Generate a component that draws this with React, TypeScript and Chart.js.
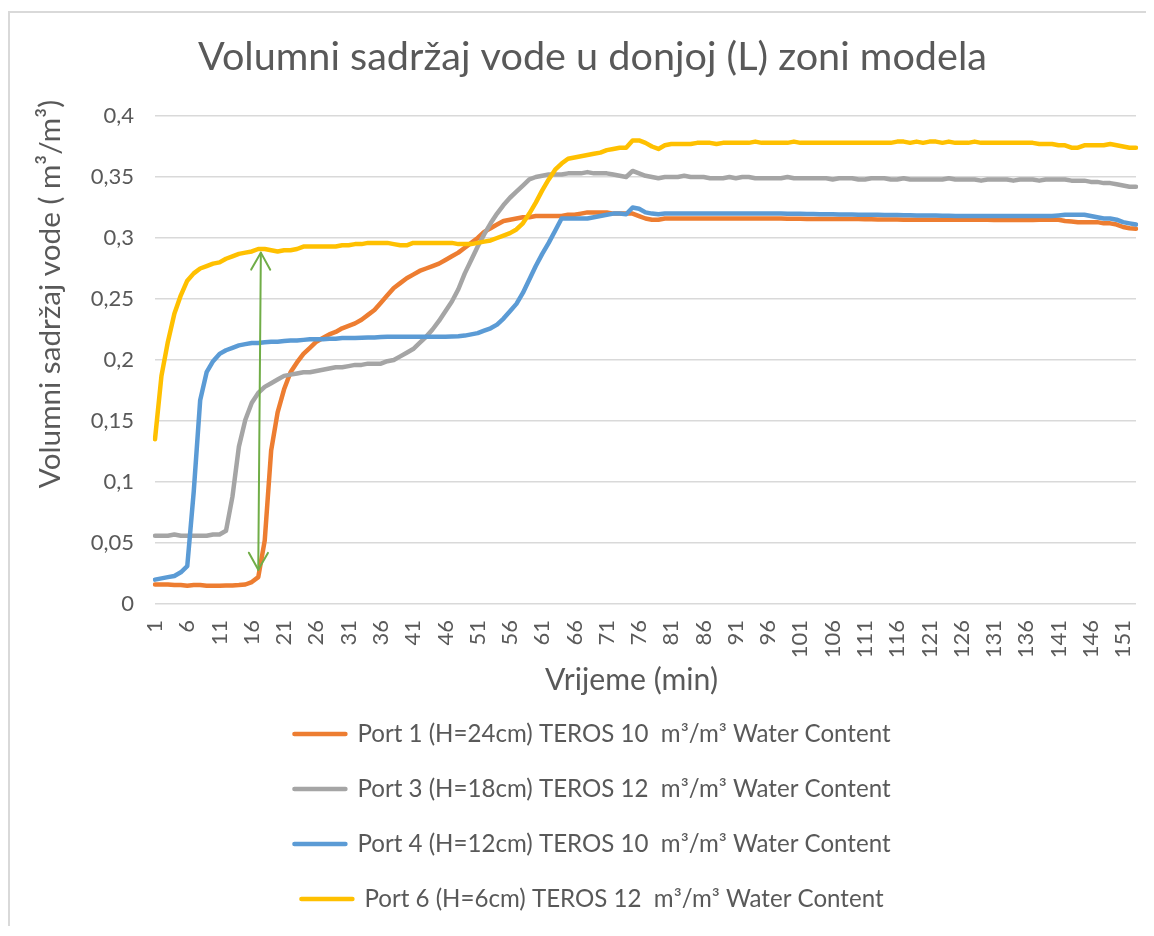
import React, { useEffect, useRef } from 'react';
import { Chart, registerables } from 'chart.js';

Chart.register(...registerables);

// ---------- text ----------
const CHART_TITLE = 'Volumni sadržaj vode u donjoj (L) zoni modela';
const X_TITLE = 'Vrijeme (min)';
const Y_TITLE = 'Volumni sadržaj vode ( m³/m³)';

// ---------- categories (minutes 1..153) ----------
const MINUTE_COUNT = 153;
const MINUTES: string[] = Array.from({ length: MINUTE_COUNT }, (_, i) => String(i + 1));
const X_LABEL_EVERY = 5;

// ---------- y axis ----------
const Y_MIN = 0;
const Y_MAX = 0.4;
const Y_STEP = 0.05;

// ---------- series ----------
const SERIES_LABELS = [
  'Port 1 (H=24cm) TEROS 10  m³/m³ Water Content',
  'Port 3 (H=18cm) TEROS 12  m³/m³ Water Content',
  'Port 4 (H=12cm) TEROS 10  m³/m³ Water Content',
  'Port 6 (H=6cm) TEROS 12  m³/m³ Water Content',
];
const SERIES_COLORS = ['#ED7D31', '#A5A5A5', '#5B9BD5', '#FFC000'];

const PORT_1 = [
  0.016, 0.016, 0.016, 0.0155, 0.0155, 0.015, 0.0155, 0.0155, 0.015, 0.015,
  0.015, 0.0152, 0.0152, 0.0155, 0.016, 0.018, 0.022, 0.052, 0.126, 0.157,
  0.176, 0.19, 0.198, 0.205, 0.21, 0.215, 0.218, 0.221, 0.223, 0.226,
  0.228, 0.23, 0.233, 0.237, 0.241, 0.247, 0.253, 0.259, 0.263, 0.267,
  0.27, 0.273, 0.275, 0.277, 0.279, 0.282, 0.285, 0.288, 0.292, 0.296,
  0.3, 0.305, 0.308, 0.311, 0.314, 0.315, 0.316, 0.317, 0.317, 0.318,
  0.318, 0.318, 0.318, 0.318, 0.319, 0.319, 0.32, 0.321, 0.321, 0.321,
  0.321, 0.32, 0.32, 0.32, 0.32, 0.318, 0.316, 0.315, 0.315, 0.316,
  0.316, 0.316, 0.316, 0.316, 0.316, 0.316, 0.316, 0.316, 0.316, 0.316,
  0.316, 0.316, 0.316, 0.316, 0.316, 0.316, 0.316, 0.316, 0.3158, 0.3158,
  0.3158, 0.3156, 0.3156, 0.3156, 0.3156, 0.3155, 0.3155, 0.3155, 0.3155, 0.3155,
  0.3153, 0.3153, 0.3152, 0.3152, 0.3152, 0.3152, 0.315, 0.315, 0.315, 0.315,
  0.315, 0.315, 0.315, 0.315, 0.315, 0.315, 0.315, 0.315, 0.315, 0.315,
  0.3148, 0.3148, 0.3148, 0.3148, 0.3148, 0.3148, 0.3148, 0.315, 0.315, 0.315,
  0.315, 0.314, 0.3135, 0.313, 0.313, 0.313, 0.313, 0.312, 0.312, 0.311,
  0.309, 0.308, 0.3075,
];

const PORT_3 = [
  0.056, 0.056, 0.056, 0.057, 0.056, 0.056, 0.056, 0.056, 0.056, 0.057,
  0.057, 0.06, 0.088, 0.129, 0.151, 0.165, 0.173, 0.178, 0.181, 0.184,
  0.187, 0.188, 0.189, 0.19, 0.19, 0.191, 0.192, 0.193, 0.194, 0.194,
  0.195, 0.196, 0.196, 0.197, 0.197, 0.197, 0.199, 0.2, 0.203, 0.206,
  0.209, 0.214, 0.219, 0.225, 0.232, 0.24, 0.248, 0.258, 0.271, 0.282,
  0.293, 0.303, 0.312, 0.32, 0.327, 0.333, 0.338, 0.343, 0.348, 0.35,
  0.351, 0.352, 0.352, 0.352, 0.353, 0.353, 0.353, 0.354, 0.353, 0.353,
  0.353, 0.352, 0.351, 0.35, 0.355, 0.353, 0.351, 0.35, 0.349, 0.35,
  0.35, 0.35, 0.351, 0.35, 0.35, 0.35, 0.349, 0.349, 0.349, 0.35,
  0.349, 0.35, 0.35, 0.349, 0.349, 0.349, 0.349, 0.349, 0.35, 0.349,
  0.349, 0.349, 0.349, 0.349, 0.349, 0.348, 0.349, 0.349, 0.349, 0.348,
  0.348, 0.349, 0.349, 0.349, 0.348, 0.348, 0.349, 0.348, 0.348, 0.348,
  0.348, 0.348, 0.348, 0.349, 0.348, 0.348, 0.348, 0.348, 0.347, 0.348,
  0.348, 0.348, 0.348, 0.347, 0.348, 0.348, 0.348, 0.347, 0.348, 0.348,
  0.348, 0.348, 0.347, 0.347, 0.347, 0.346, 0.346, 0.345, 0.345, 0.344,
  0.343, 0.342, 0.342,
];

const PORT_4 = [
  0.02, 0.021, 0.022, 0.023, 0.026, 0.031, 0.092, 0.167, 0.19, 0.199,
  0.205, 0.208, 0.21, 0.212, 0.213, 0.214, 0.214, 0.2145, 0.215, 0.215,
  0.2155, 0.216, 0.216, 0.2165, 0.217, 0.217, 0.217, 0.2175, 0.2175, 0.218,
  0.218, 0.218, 0.2182, 0.2185, 0.2185, 0.2188, 0.219, 0.219, 0.219, 0.219,
  0.219, 0.219, 0.219, 0.219, 0.219, 0.219, 0.2192, 0.2195, 0.22, 0.221,
  0.222, 0.224, 0.226, 0.229, 0.234, 0.24, 0.246, 0.255, 0.266, 0.277,
  0.287, 0.296, 0.306, 0.316, 0.316, 0.316, 0.316, 0.316, 0.317, 0.318,
  0.319, 0.32, 0.32, 0.3195, 0.325, 0.324, 0.321, 0.32, 0.3195, 0.32,
  0.32, 0.32, 0.32, 0.32, 0.32, 0.32, 0.32, 0.32, 0.32, 0.32,
  0.32, 0.32, 0.32, 0.32, 0.32, 0.32, 0.32, 0.32, 0.3198, 0.3198,
  0.3198, 0.3196, 0.3196, 0.3195, 0.3195, 0.3194, 0.3193, 0.3192, 0.3192, 0.319,
  0.319, 0.319, 0.319, 0.3188, 0.3188, 0.3188, 0.3186, 0.3186, 0.3185, 0.3185,
  0.3185, 0.3184, 0.3183, 0.3182, 0.3181, 0.318, 0.318, 0.318, 0.318, 0.318,
  0.318, 0.318, 0.318, 0.318, 0.318, 0.318, 0.318, 0.318, 0.318, 0.318,
  0.3185, 0.319, 0.319, 0.319, 0.319, 0.318, 0.317, 0.316, 0.316, 0.315,
  0.313, 0.312, 0.311,
];

const PORT_6 = [
  0.135, 0.187, 0.215, 0.238, 0.253, 0.265, 0.271, 0.275, 0.277, 0.279,
  0.28, 0.283, 0.285, 0.287, 0.288, 0.289, 0.291, 0.291, 0.29, 0.289,
  0.29, 0.29, 0.291, 0.293, 0.293, 0.293, 0.293, 0.293, 0.293, 0.294,
  0.294, 0.295, 0.295, 0.296, 0.296, 0.296, 0.296, 0.295, 0.294, 0.294,
  0.296, 0.296, 0.296, 0.296, 0.296, 0.296, 0.296, 0.295, 0.295, 0.295,
  0.296, 0.297, 0.298, 0.3, 0.302, 0.304, 0.307, 0.312, 0.32, 0.329,
  0.339, 0.348, 0.356, 0.361, 0.365, 0.366, 0.367, 0.368, 0.369, 0.37,
  0.372, 0.373, 0.374, 0.374, 0.38, 0.38, 0.378, 0.375, 0.373, 0.376,
  0.377, 0.377, 0.377, 0.377, 0.378, 0.378, 0.378, 0.377, 0.378, 0.378,
  0.378, 0.378, 0.378, 0.379, 0.378, 0.378, 0.378, 0.378, 0.378, 0.379,
  0.378, 0.378, 0.378, 0.378, 0.378, 0.378, 0.378, 0.378, 0.378, 0.378,
  0.378, 0.378, 0.378, 0.378, 0.378, 0.379, 0.379, 0.378, 0.379, 0.378,
  0.379, 0.379, 0.378, 0.379, 0.378, 0.378, 0.378, 0.379, 0.378, 0.378,
  0.378, 0.378, 0.378, 0.378, 0.378, 0.378, 0.378, 0.377, 0.377, 0.377,
  0.376, 0.376, 0.374, 0.374, 0.376, 0.376, 0.376, 0.376, 0.377, 0.376,
  0.375, 0.374, 0.374,
];

const SERIES_DATA = [PORT_1, PORT_3, PORT_4, PORT_6];

// green double-headed arrow annotation, in data units (category index, value)
const ARROW_FROM = { index: 16, value: 0.028 };
const ARROW_TO = { index: 16.4, value: 0.288 };

// ---------- styling ----------
const FONT = 'Lato';
const TEXT_COLOR = '#595959';
const GRID_COLOR = '#D9D9D9';
const ARROW_COLOR = '#70AD47';

function fitSize(text: string, target: number): number {
  const c = document.createElement('canvas').getContext('2d')!;
  c.font = `100px ${FONT}`;
  const w = c.measureText(text).width;
  return Math.round((100 * target) / w * 10) / 10;
}

const CANVAS_W = 1144;
const CANVAS_H = 913;

export default function App() {
  const ref = useRef<HTMLCanvasElement | null>(null);

  useEffect(() => {
    document.body.style.overflow = 'hidden';
    const canvas = ref.current;
    if (!canvas) return;

    const titleSize = fitSize(CHART_TITLE, 790);
    const legendSize = fitSize(SERIES_LABELS[0], 534);
    const xTitleSize = fitSize(X_TITLE, 173);
    const yTitleSize = fitSize(Y_TITLE, 388);
    const tickSize = 22;

    const areaTop = 103;
    const areaBottom = 591;
    const areaLeft = 145;
    const areaRight = 1126;
    const padL = 39;
    const padR = CANVAS_W - areaRight;

    const titleLH = titleSize * 1.2;
    const titleMid = 44;
    const titlePadTop = titleMid - titleLH / 2;
    const titlePadBottom = areaTop - titlePadTop - titleLH;

    const rowGap = 55;
    const legendPad = rowGap - legendSize;
    const firstRowMid = 721;
    const xAxisHeight = firstRowMid - legendPad - legendSize / 2 - areaBottom;
    const legendHeight = 4 * rowGap + 10;
    const padBottom = CANVAS_H - areaBottom - xAxisHeight - legendHeight;

    const extras = {
      id: 'extras',
      afterDatasetsDraw(chart: any) {
        const { ctx, scales } = chart;
        const x = scales.x;
        const y = scales.y;
        const x1 = x.getPixelForValue(ARROW_FROM.index);
        const y1 = y.getPixelForValue(ARROW_FROM.value);
        const x2 = x.getPixelForValue(ARROW_TO.index);
        const y2 = y.getPixelForValue(ARROW_TO.value);
        ctx.save();
        ctx.strokeStyle = ARROW_COLOR;
        ctx.lineWidth = 2;
        ctx.lineCap = 'round';
        ctx.lineJoin = 'round';
        ctx.beginPath();
        ctx.moveTo(x1, y1);
        ctx.lineTo(x2, y2);
        ctx.stroke();
        const head = (tx: number, ty: number, fx: number, fy: number) => {
          const ang = Math.atan2(ty - fy, tx - fx);
          const len = 19.5;
          const spread = 0.51;
          ctx.beginPath();
          ctx.moveTo(tx - len * Math.cos(ang - spread), ty - len * Math.sin(ang - spread));
          ctx.lineTo(tx, ty);
          ctx.lineTo(tx - len * Math.cos(ang + spread), ty - len * Math.sin(ang + spread));
          ctx.stroke();
        };
        head(x2, y2, x1, y1);
        head(x1, y1, x2, y2);
        ctx.restore();
      },
      afterDraw(chart: any) {
        const { ctx } = chart;
        ctx.save();
        ctx.fillStyle = TEXT_COLOR;
        ctx.textAlign = 'center';
        ctx.textBaseline = 'middle';
        ctx.font = `${xTitleSize}px ${FONT}`;
        ctx.fillText(X_TITLE, 621.5, 667);
        ctx.translate(40, 281);
        ctx.rotate(-Math.PI / 2);
        ctx.font = `${yTitleSize}px ${FONT}`;
        ctx.fillText(Y_TITLE, 0, 0);
        ctx.restore();
      },
    };

    const chart = new Chart(canvas, {
      type: 'line',
      data: {
        labels: MINUTES,
        datasets: SERIES_DATA.map((d, i) => ({
          label: SERIES_LABELS[i],
          data: d,
          borderColor: SERIES_COLORS[i],
          backgroundColor: SERIES_COLORS[i],
          borderWidth: 4.5,
          pointRadius: 0,
          pointHoverRadius: 0,
          tension: 0,
          fill: false,
          borderCapStyle: 'round',
          borderJoinStyle: 'round',
          order: SERIES_DATA.length - i,
        })),
      },
      options: {
        responsive: false,
        animation: false,
        events: [],
        layout: { padding: { left: padL, right: padR, top: 0, bottom: padBottom } },
        plugins: {
          title: {
            display: true,
            text: CHART_TITLE,
            color: TEXT_COLOR,
            font: { family: FONT, size: titleSize, weight: 'normal', lineHeight: 1.2 },
            padding: { top: titlePadTop, bottom: titlePadBottom },
          },
          legend: {
            display: true,
            position: 'bottom',
            align: 'center',
            labels: {
              boxWidth: 51,
              boxHeight: 0,
              padding: legendPad,
              color: TEXT_COLOR,
              font: { family: FONT, size: legendSize },
              sort: (a: any, b: any) => a.datasetIndex - b.datasetIndex,
            },
          },
          tooltip: { enabled: false },
        },
        scales: {
          x: {
            type: 'category',
            offset: false,
            grid: {
              display: true,
              drawOnChartArea: false,
              drawTicks: true,
              tickLength: 16,
              color: 'transparent',
              tickColor: 'transparent',
            },
            border: { display: false },
            ticks: {
              autoSkip: false,
              maxRotation: 90,
              minRotation: 90,
              padding: 0,
              color: TEXT_COLOR,
              font: { family: FONT, size: tickSize },
              callback: (_v: any, idx: number) => (idx % X_LABEL_EVERY === 0 ? MINUTES[idx] : ''),
            },
            afterFit: (scale: any) => {
              scale.height = xAxisHeight;
              scale.paddingLeft = 0;
              scale.paddingRight = 0;
            },
          },
          y: {
            min: Y_MIN,
            max: Y_MAX,
            grid: { color: GRID_COLOR, lineWidth: 1.5, drawTicks: false },
            border: { display: false },
            ticks: {
              stepSize: Y_STEP,
              padding: 21,
              color: TEXT_COLOR,
              font: { family: FONT, size: tickSize },
              callback: (v: any) => String(Math.round(Number(v) * 100) / 100).replace('.', ','),
            },
            afterFit: (scale: any) => {
              scale.width = areaLeft - padL;
            },
          },
        },
      },
      plugins: [extras],
    } as any);

    return () => chart.destroy();
  }, []);

  return (
    <div
      style={{
        marginTop: 3,
        width: 1146,
        height: 915,
        boxSizing: 'border-box',
        borderTop: '2px solid #D9D9D9',
        borderLeft: '2px solid #D9D9D9',
        background: '#fff',
      }}
    >
      <canvas ref={ref} width={CANVAS_W} height={CANVAS_H} style={{ display: 'block' }} />
    </div>
  );
}
